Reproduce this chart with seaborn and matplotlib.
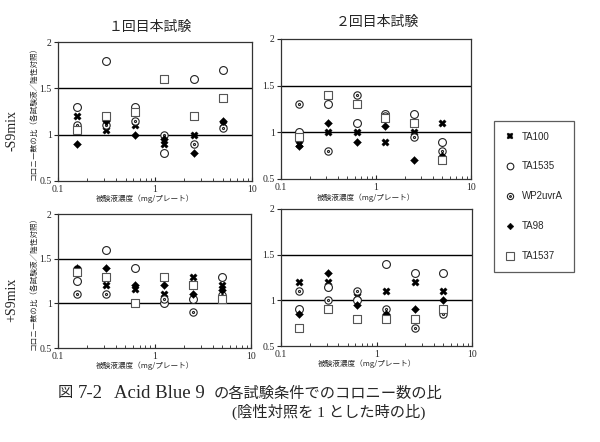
import numpy as np
import pandas as pd
import matplotlib
matplotlib.use("Agg")
import matplotlib.pyplot as plt
from matplotlib.path import Path
from matplotlib.lines import Line2D
import seaborn as sns

# ---------------- data ----------------
doses = [0.156, 0.313, 0.625, 1.25, 2.5, 5.0]
strains = ["TA100", "TA1535", "WP2uvrA", "TA98", "TA1537"]

# -S9mix, 1st test
a_TA100 = [1.20, 1.05, 1.10, 0.90, 1.00, 1.12]
a_TA1535 = [1.30, 1.80, 1.30, 0.80, 1.60, 1.70]
a_WP2uvrA = [1.10, 1.10, 1.15, 1.00, 0.90, 1.07]
a_TA98 = [0.90, 1.15, 1.00, 0.95, 0.80, 1.15]
a_TA1537 = [1.05, 1.20, 1.25, 1.60, 1.20, 1.40]

# -S9mix, 2nd test
b_TA100 = [0.88, 1.00, 1.00, 0.90, 1.00, 1.10]
b_TA1535 = [1.00, 1.30, 1.10, 1.20, 1.20, 0.90]
b_WP2uvrA = [1.30, 0.80, 1.40, 1.18, 0.95, 0.80]
b_TA98 = [0.85, 1.10, 0.90, 1.07, 0.70, 0.75]
b_TA1537 = [0.95, 1.40, 1.30, 1.15, 1.10, 0.70]

# +S9mix, 1st test
c_TA100 = [1.38, 1.20, 1.16, 1.10, 1.30, 1.20]
c_TA1535 = [1.25, 1.60, 1.40, 1.00, 1.05, 1.30]
c_WP2uvrA = [1.10, 1.10, 1.00, 1.05, 0.90, 1.09]
c_TA98 = [1.40, 1.40, 1.20, 1.20, 1.10, 1.15]
c_TA1537 = [1.35, 1.30, 1.00, 1.30, 1.20, 1.05]

# +S9mix, 2nd test
d_TA100 = [1.20, 1.20, 1.05, 1.10, 1.20, 1.10]
d_TA1535 = [0.90, 1.15, 1.00, 1.40, 1.30, 1.30]
d_WP2uvrA = [1.10, 1.00, 1.10, 0.90, 0.70, 0.85]
d_TA98 = [0.85, 1.30, 0.95, 0.85, 0.90, 1.00]
d_TA1537 = [0.70, 0.90, 0.80, 0.80, 0.80, 0.90]

panels = {
    "a": [a_TA100, a_TA1535, a_WP2uvrA, a_TA98, a_TA1537],
    "b": [b_TA100, b_TA1535, b_WP2uvrA, b_TA98, b_TA1537],
    "c": [c_TA100, c_TA1535, c_WP2uvrA, c_TA98, c_TA1537],
    "d": [d_TA100, d_TA1535, d_WP2uvrA, d_TA98, d_TA1537],
}
col_titles = ["１回目本試験", "２回目本試験"]
row_labels = ["-S9mix", "+S9mix"]
xlabel = "被験液濃度（mg/プレート）"
ylabel = "コロニー数の比（各試験液／陰性対照）"
cap_fig = "図"
cap_num = "7-2"
cap_name = "Acid Blue 9"
cap_rest = "の各試験条件でのコロニー数の比"
caption2 = "(陰性対照を 1 とした時の比)"

# ---------------- style ----------------
sns.set_style("ticks")
JP = ["Noto Sans CJK JP", "DejaVu Sans"]
SERIF_JP = ["Liberation Serif", "Noto Sans CJK JP", "DejaVu Sans"]
plt.rcParams["font.family"] = JP

# circle-with-dot marker
outer = Path.unit_circle()
inner = Path.unit_circle()
inner = Path(inner.vertices * 0.28, inner.codes)
odot = Path.make_compound_path(outer, inner)

mk = {"TA100": "X", "TA1535": "o", "WP2uvrA": odot, "TA98": "D", "TA1537": "s"}
fc = {"TA100": "black", "TA1535": "white", "WP2uvrA": "white", "TA98": "black", "TA1537": "white"}
sz = {"TA100": 28, "TA1535": 32, "WP2uvrA": 28, "TA98": 16, "TA1537": 40}
lw = {"TA100": 0.3, "TA1535": 0.8, "WP2uvrA": 0.8, "TA98": 0.3, "TA1537": 0.8}
ec = {"TA100": "black", "TA1535": "#222222", "WP2uvrA": "#222222", "TA98": "black", "TA1537": "#555555"}

fig = plt.figure(figsize=(6.0, 4.42), dpi=100)
W, H = 600, 442

def ax_rect(l, t, r, b):
    return [l / W, 1 - b / H, (r - l) / W, (b - t) / H]

rects = {
    "a": ax_rect(58, 42, 252, 181),
    "b": ax_rect(281, 39, 471, 179),
    "c": ax_rect(58, 214, 251, 348),
    "d": ax_rect(281, 209, 472, 346),
}
left_col = {"a": True, "b": False, "c": True, "d": False}

for key, vals in panels.items():
    ax = fig.add_axes(rects[key])
    rows = []
    for s, v in zip(strains, vals):
        for d, y in zip(doses, v):
            rows.append({"dose": d, "ratio": y, "strain": s})
    df = pd.DataFrame(rows)
    ax.axhline(1.0, color="black", lw=1.0, zorder=1)
    ax.axhline(1.5, color="black", lw=1.0, zorder=1)
    for s in strains:
        sub = df[df["strain"] == s]
        sns.scatterplot(data=sub, x="dose", y="ratio", ax=ax, marker=mk[s],
                        s=sz[s], facecolor=fc[s], edgecolor=ec[s],
                        linewidth=lw[s], zorder=3, legend=False)
    ax.set_xscale("log")
    ax.set_xlim(0.1, 10)
    ax.set_ylim(0.5, 2.0)
    ax.set_xticks([0.1, 1, 10])
    ax.set_xticklabels(["0.1", "1", "10"], family="Liberation Serif", fontsize=7)
    ax.set_yticks([0.5, 1.0, 1.5, 2.0])
    ax.set_yticklabels(["0.5", "1", "1.5", "2"], family="Liberation Serif", fontsize=7)
    ax.tick_params(axis="x", which="major", length=3, width=0.8, direction="in", pad=3)
    ax.tick_params(axis="y", which="major", length=3, width=0.8, direction="out", pad=1.5)
    ax.tick_params(axis="x", which="minor", length=2, width=0.6, direction="in")
    for sp in ax.spines.values():
        sp.set_linewidth(0.9)
        sp.set_color("#333333")
    ax.set_xlabel(xlabel, fontsize=5.5, labelpad=4, family=JP)
    ax.xaxis.set_label_coords(0.45, -0.1)
    if left_col[key]:
        ax.set_ylabel(ylabel, fontsize=5.5, family=JP)
        ax.yaxis.set_label_coords(-0.105, 0.5)
    else:
        ax.set_ylabel("")

# column titles
fig.text(150 / W, 1 - 27 / H, col_titles[0], ha="center", va="center", fontsize=10, family=JP)
fig.text(377 / W, 1 - 22 / H, col_titles[1], ha="center", va="center", fontsize=10, family=JP)
# row labels
fig.text(12 / W, 1 - 130 / H, row_labels[0], ha="center", va="center", rotation=90,
         fontsize=10, family="Liberation Serif")
fig.text(12 / W, 1 - 300 / H, row_labels[1], ha="center", va="center", rotation=90,
         fontsize=10, family="Liberation Serif")

# legend
handles = []
for s in strains:
    handles.append(Line2D([], [], linestyle="none", marker=mk[s],
                          markersize=np.sqrt(sz[s]) * 0.85, markerfacecolor=fc[s],
                          markeredgecolor=ec[s], markeredgewidth=lw[s]))
leg = fig.legend(handles, strains, loc="upper left",
                 bbox_to_anchor=(489 / W, 1 - 116 / H), frameon=True,
                 labelspacing=2.05, handletextpad=0.6,
                 borderpad=1.1, handlelength=1.2, fancybox=False,
                 prop={"family": "Liberation Sans", "size": 7})
leg.get_frame().set_edgecolor("#333333")
leg.get_frame().set_linewidth(0.9)

# caption
cy1 = 1 - 393 / H
fig.text(58 / W, cy1, cap_fig, ha="left", va="center", fontsize=11, family=JP)
fig.text(78 / W, cy1, cap_num, ha="left", va="center", fontsize=13.5, family="Liberation Serif")
fig.text(114 / W, cy1, cap_name, ha="left", va="center", fontsize=13.5, family="Liberation Serif")
fig.text(214 / W, cy1, cap_rest, ha="left", va="center", fontsize=11, family=JP)
fig.text(232 / W, 1 - 412 / H, caption2, ha="left", va="center", fontsize=11, family=SERIF_JP)

fig.savefig("out.png", dpi=100, facecolor="white")
